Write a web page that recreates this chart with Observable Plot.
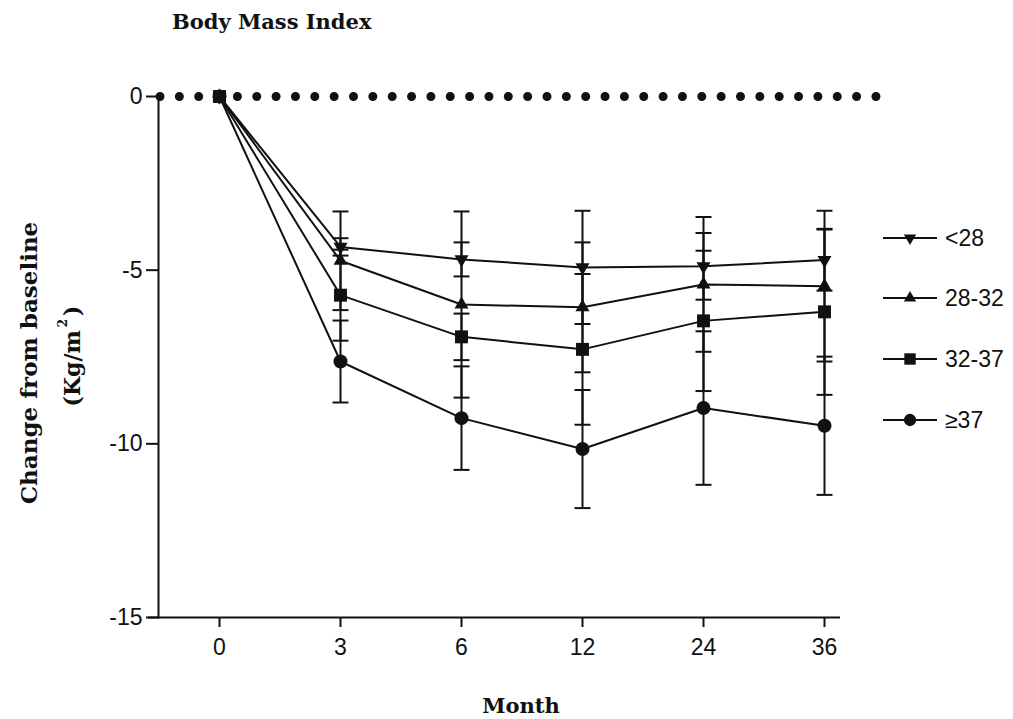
<!DOCTYPE html>
<html>
<head>
<meta charset="utf-8">
<script src="https://cdn.jsdelivr.net/npm/d3@7"></script>
<script src="https://cdn.jsdelivr.net/npm/@observablehq/plot@0.6"></script>
<style>
  html, body { margin: 0; padding: 0; background: #fff; }
  #chart { position: relative; width: 1013px; height: 719px; }
</style>
</head>
<body>
<div id="chart"></div>
<script>
// Change in BMI from baseline by baseline BMI group (mean ± SD)
const months = ["0", "3", "6", "12", "24", "36"];
const groups = ["<28", "28-32", "32-37", "≥37"];

const meanLt28 = [0, -4.33, -4.69, -4.92, -4.89, -4.71];
const sdLt28   = [0, 0.25, 0.49, 1.63, 0.96, 0.88];

const mean28to32 = [0, -4.73, -5.99, -6.07, -5.41, -5.46];
const sd28to32   = [0, 1.42, 2.68, 1.87, 1.94, 2.17];

const mean32to37 = [0, -5.72, -6.92, -7.28, -6.46, -6.20];
const sd32to37   = [0, 1.31, 0.67, 2.17, 2.02, 2.39];

const meanGe37 = [0, -7.63, -9.26, -10.15, -8.97, -9.48];
const sdGe37   = [0, 1.18, 1.49, 1.70, 2.21, 1.99];

const yTicks = [-15, -10, -5, 0];

const means = [meanLt28, mean28to32, mean32to37, meanGe37];
const sds = [sdLt28, sd28to32, sd32to37, sdGe37];

// long table: one row per group × month
const rows = groups.flatMap((g, gi) =>
  months.map((m, mi) => ({group: g, month: m, mean: means[gi][mi], sd: sds[gi][mi]}))
);

// marker shapes
const triangleDown = {
  draw(ctx, size) {
    const s = Math.sqrt(size * 4 / Math.sqrt(3)), h = s * Math.sqrt(3) / 2;
    ctx.moveTo(0, 2 * h / 3); ctx.lineTo(-s / 2, -h / 3); ctx.lineTo(s / 2, -h / 3); ctx.closePath();
  }
};
const triangleUp = {
  draw(ctx, size) {
    const s = Math.sqrt(size * 4 / Math.sqrt(3)), h = s * Math.sqrt(3) / 2;
    ctx.moveTo(0, -2 * h / 3); ctx.lineTo(-s / 2, h / 3); ctx.lineTo(s / 2, h / 3); ctx.closePath();
  }
};
const capBar = {
  draw(ctx, size) {
    const w = Math.sqrt(size);
    ctx.moveTo(-w, 0); ctx.lineTo(w, 0);
  }
};
const markerFor = {
  "<28": {symbol: triangleDown, r: 5.2},
  "28-32": {symbol: triangleUp, r: 5.2},
  "32-37": {symbol: "square", r: 7.3},
  "≥37": {symbol: "circle", r: 7}
};

const ink = "#111";
const drawOrder = ["≥37", "28-32", "<28", "32-37"];

const seriesMarks = drawOrder.flatMap(g => {
  const data = rows.filter(d => d.group === g);
  const withErr = data.filter(d => d.sd > 0);
  return [
    Plot.line(data, {x: "month", y: "mean", stroke: ink, strokeWidth: 2}),
    Plot.ruleX(withErr, {x: "month", y1: d => d.mean - d.sd, y2: d => d.mean + d.sd, stroke: ink, strokeWidth: 2}),
    Plot.dot(withErr, {x: "month", y: d => d.mean + d.sd, symbol: capBar, r: 4.5, fill: "none", stroke: ink, strokeWidth: 2}),
    Plot.dot(withErr, {x: "month", y: d => d.mean - d.sd, symbol: capBar, r: 4.5, fill: "none", stroke: ink, strokeWidth: 2}),
    Plot.dot(data, {x: "month", y: "mean", symbol: markerFor[g].symbol, r: markerFor[g].r, fill: ink, stroke: "none"})
  ];
});

const chart = Plot.plot({
  width: 1013,
  height: 719,
  marginTop: 96,
  marginBottom: 102,
  marginLeft: 158,
  marginRight: 173,
  style: {fontFamily: "'Liberation Sans', Arial, sans-serif", fontSize: "23px", color: ink, background: "#fff"},
  x: {type: "point", domain: months, padding: 0, insetLeft: 61, insetRight: 16, label: null},
  y: {domain: [-15, 0], label: null},
  marks: [
    // dotted zero reference line
    Plot.ruleY([0], {stroke: ink, strokeWidth: 9, strokeDasharray: "0 19.35", strokeLinecap: "round", insetLeft: 2, insetRight: -36}),
    Plot.axisY({ticks: yTicks, tickSize: 12, tickPadding: 4, tickFormat: d => String(d), strokeWidth: 2, label: null}),
    Plot.axisX({tickSize: 10, tickPadding: 11, strokeWidth: 2, label: null}),
    Plot.frame({anchor: "left", stroke: ink, strokeWidth: 2}),
    Plot.ruleY([-15], {stroke: ink, strokeWidth: 2, insetLeft: -10}),
    ...seriesMarks
  ]
});

document.getElementById("chart").appendChild(chart);

// titles and legend
const svg = d3.select(chart);
const serif = "'DejaVu Serif', serif";

svg.append("text")
  .attr("x", 172).attr("y", 29)
  .attr("text-anchor", "start")
  .attr("font-family", serif).attr("font-weight", "bold").attr("font-size", 21)
  .attr("fill", ink)
  .text("Body Mass Index");

svg.append("text")
  .attr("x", 521).attr("y", 713)
  .attr("text-anchor", "middle")
  .attr("font-family", serif).attr("font-weight", "bold").attr("font-size", 21)
  .attr("fill", ink)
  .text("Month");

svg.append("text")
  .attr("transform", "translate(37,363) rotate(-90)")
  .attr("text-anchor", "middle")
  .attr("font-family", serif).attr("font-weight", "bold").attr("font-size", 23)
  .attr("fill", ink)
  .text("Change from baseline");

const unit = svg.append("text")
  .attr("transform", "translate(80,356) rotate(-90)")
  .attr("text-anchor", "middle")
  .attr("font-family", serif).attr("font-weight", "bold").attr("font-size", 22)
  .attr("fill", ink);
unit.append("tspan").text("(Kg/m");
unit.append("tspan").attr("font-size", 12).attr("dy", -13).attr("dx", 3).text("2");
unit.append("tspan").attr("dy", 13).attr("dx", 3).text(")");

const legendRows = [238, 298, 359, 420];
const legend = svg.append("g");
groups.forEach((g, i) => {
  const row = legend.append("g").attr("transform", `translate(0,${legendRows[i]})`);
  row.append("line").attr("x1", 883).attr("x2", 937).attr("stroke", ink).attr("stroke-width", 2);
  const m = markerFor[g];
  const type = m.symbol === "square" ? d3.symbolSquare : m.symbol === "circle" ? d3.symbolCircle : m.symbol;
  const size = Math.PI * (m.r * 0.88) ** 2;
  row.append("path")
    .attr("transform", "translate(910,0)")
    .attr("d", d3.symbol(type, size)())
    .attr("fill", ink);
  row.append("text")
    .attr("x", 945).attr("y", 0).attr("dy", "0.36em")
    .attr("text-anchor", "start")
    .attr("font-family", "'Liberation Sans', Arial, sans-serif").attr("font-size", 23)
    .attr("fill", ink)
    .text(g);
});
</script>
</body>
</html>
